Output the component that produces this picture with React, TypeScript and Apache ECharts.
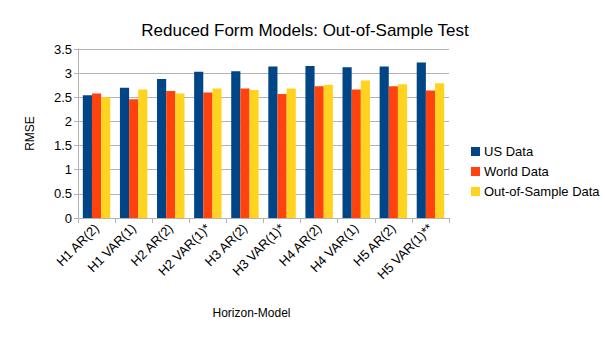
import React, { useEffect, useRef } from "react";
import * as echarts from "echarts";

const categories = [
  "H1 AR(2)", "H1 VAR(1)", "H2 AR(2)", "H2 VAR(1)*", "H3 AR(2)",
  "H3 VAR(1)*", "H4 AR(2)", "H4 VAR(1)", "H5 AR(2)", "H5 VAR(1)**",
];
const usData = [2.54, 2.70, 2.88, 3.03, 3.04, 3.14, 3.15, 3.12, 3.14, 3.22];
const worldData = [2.58, 2.46, 2.63, 2.60, 2.68, 2.57, 2.73, 2.66, 2.73, 2.64];
const oosData = [2.50, 2.66, 2.58, 2.68, 2.65, 2.68, 2.76, 2.85, 2.77, 2.79];

const FONT = "Liberation Sans, Arial, sans-serif";

export default function App() {
  const ref = useRef<HTMLDivElement>(null);
  useEffect(() => {
    const chart = echarts.init(ref.current!, null, { renderer: "svg" });
    const mk = (name: string, data: number[], color: string) => ({
      name,
      type: "bar",
      data,
      barGap: "0%",
      barCategoryGap: "26%",
      itemStyle: { color },
    });
    chart.setOption({
      animation: false,
      textStyle: { fontFamily: FONT },
      title: {
        text: "Reduced Form Models: Out-of-Sample Test",
        left: 300,
        top: 17,
        textAlign: "center",
        textStyle: { fontFamily: FONT, fontSize: 17, fontWeight: "normal", color: "#000" },
      },
      legend: {
        orient: "vertical",
        left: 466,
        top: 140,
        itemWidth: 9,
        itemHeight: 9,
        itemGap: 7,
        icon: "rect",
        textStyle: { fontFamily: FONT, fontSize: 13, color: "#000", padding: [0, 0, 0, -1] },
        data: ["US Data", "World Data", "Out-of-Sample Data"],
      },
      grid: { left: 78, right: 156, top: 49, bottom: 122 },
      xAxis: {
        type: "category",
        data: categories,
        name: "Horizon-Model",
        nameLocation: "middle",
        nameGap: 89,
        nameTextStyle: { fontFamily: FONT, fontSize: 12, color: "#000", padding: [0, 24, 0, 0] },
        axisLine: { lineStyle: { color: "#b3b3b3" } },
        axisTick: { show: true, length: 5, lineStyle: { color: "#b3b3b3" } },
        axisLabel: {
          rotate: 45,
          fontFamily: FONT,
          fontSize: 13,
          color: "#000",
          interval: 0,
          margin: 8,
        },
      },
      yAxis: {
        type: "value",
        min: 0,
        max: 3.5,
        interval: 0.5,
        name: "RMSE",
        nameLocation: "middle",
        nameGap: 42,
        nameRotate: 90,
        nameTextStyle: { fontFamily: FONT, fontSize: 12, color: "#000" },
        axisLine: { show: true, lineStyle: { color: "#b3b3b3" } },
        axisTick: { show: true, length: 4, lineStyle: { color: "#b3b3b3" } },
        axisLabel: { fontFamily: FONT, fontSize: 13, color: "#000", margin: 6 },
        splitLine: { lineStyle: { color: "#b3b3b3" } },
      },
      series: [
        mk("US Data", usData, "#004586"),
        mk("World Data", worldData, "#ff420e"),
        mk("Out-of-Sample Data", oosData, "#ffd320"),
      ],
    });
    return () => chart.dispose();
  }, []);
  return <div ref={ref} style={{ width: 605, height: 340, position: "absolute", left: 0, top: 0 }} />;
}
